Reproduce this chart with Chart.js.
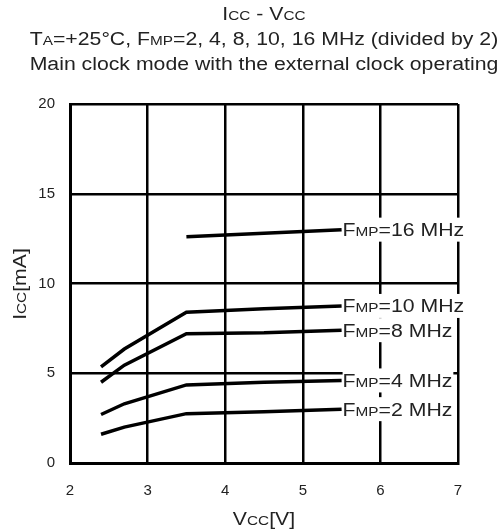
<!DOCTYPE html>
<html>
<head>
<meta charset="utf-8">
<script src="https://cdn.jsdelivr.net/npm/chart.js@4/dist/chart.umd.min.js"></script>
<style>
  html, body { margin: 0; padding: 0; background: #fff; }
  #wrap { width: 500px; height: 529px; }
</style>
</head>
<body>
<div id="wrap"><canvas id="chart" width="500" height="529"></canvas></div>
<script>
// data
const vcc = [2.4, 2.7, 3.5, 4.5, 5.5];
const vcc16 = [3.5, 4.5, 5.5];
const icc2 = [1.6, 2.0, 2.75, 2.85, 3.0];
const icc4 = [2.7, 3.3, 4.35, 4.5, 4.6];
const icc8 = [4.5, 5.45, 7.2, 7.25, 7.4];
const icc10 = [5.35, 6.35, 8.4, 8.6, 8.75];
const icc16 = [12.6, 12.8, 13.0];
const freqs = ['2', '4', '8', '10', '16'];
const xTicks = [2, 3, 4, 5, 6, 7];
const yTicks = [0, 5, 10, 15, 20];

const FONT = "'Liberation Sans', Arial, sans-serif";
const TEXT = '#222';
const STRETCH = 1.18; // the source text is drawn wide

function series(xs, ys) {
    return xs.map((x, i) => ({ x: x, y: ys[i] }));
}

const curves = [
    { f: freqs[0], data: series(vcc, icc2) },
    { f: freqs[1], data: series(vcc, icc4) },
    { f: freqs[2], data: series(vcc, icc8) },
    { f: freqs[3], data: series(vcc, icc10) },
    { f: freqs[4], data: series(vcc16, icc16) }
];

// text made of parts in different sizes (small caps style subscripts)
function partsWidth(ctx, parts) {
    let w = 0;
    parts.forEach(p => {
        ctx.font = p[1] + 'px ' + FONT;
        w += ctx.measureText(p[0]).width;
    });
    return w * STRETCH;
}

function drawParts(ctx, parts, x, y, align) {
    const w = partsWidth(ctx, parts);
    const left = align === 'center' ? x - w / 2 : x;
    ctx.save();
    ctx.translate(left, y);
    ctx.scale(STRETCH, 1);
    ctx.textBaseline = 'alphabetic';
    ctx.textAlign = 'left';
    let cx = 0;
    parts.forEach(p => {
        ctx.font = p[1] + 'px ' + FONT;
        ctx.fillText(p[0], cx, 0);
        cx += ctx.measureText(p[0]).width;
    });
    ctx.restore();
    return w;
}

const textPlugin = {
    id: 'texts',
    afterDraw(chart) {
        const ctx = chart.ctx;
        const xs = chart.scales.x;
        const ys = chart.scales.y;
        ctx.save();
        ctx.fillStyle = TEXT;

        // titles
        const cx = 264;
        drawParts(ctx, [['I', 18], ['CC', 13], [' - V', 18], ['CC', 13]], cx, 20, 'center');
        drawParts(ctx, [['T', 18], ['A', 13], ['=+25°C, F', 18], ['MP', 13], ['=2, 4, 8, 10, 16 MHz (divided by 2)', 18]], cx, 45, 'center');
        drawParts(ctx, [['Main clock mode with the external clock operating', 18]], cx, 70, 'center');

        // axis titles
        drawParts(ctx, [['V', 18], ['CC', 13], ['[V]', 18]], cx, 525, 'center');
        ctx.save();
        ctx.translate(26, 284);
        ctx.rotate(-Math.PI / 2);
        drawParts(ctx, [['I', 18], ['CC', 13], ['[mA]', 18]], 0, 0, 'center');
        ctx.restore();

        // curve labels at the end of each line
        curves.forEach(c => {
            const last = c.data[c.data.length - 1];
            const px = xs.getPixelForValue(last.x) + 1;
            const py = ys.getPixelForValue(last.y);
            const parts = [['F', 18], ['MP', 13], ['=' + c.f + ' MHz', 18]];
            const w = partsWidth(ctx, parts);
            ctx.fillStyle = '#fff';
            ctx.fillRect(px, py - 12, w + 1, 24);
            ctx.fillStyle = TEXT;
            drawParts(ctx, parts, px, py + 6.5, 'left');
        });
        ctx.restore();
    }
};

new Chart(document.getElementById('chart'), {
    type: 'scatter',
    data: {
        datasets: curves.map(c => ({
            label: 'FMP=' + c.f + ' MHz',
            data: c.data,
            showLine: true,
            borderColor: '#000',
            borderWidth: 3.5,
            pointRadius: 0,
            tension: 0
        }))
    },
    options: {
        responsive: false,
        animation: false,
        layout: { padding: { top: 104, right: 42, left: 0, bottom: 0 } },
        plugins: {
            legend: { display: false },
            tooltip: { enabled: false }
        },
        scales: {
            x: {
                type: 'linear',
                min: xTicks[0],
                max: xTicks[xTicks.length - 1],
                afterBuildTicks: s => { s.ticks = xTicks.map(v => ({ value: v })); },
                afterFit: s => { s.height = 66; },
                grid: { color: '#000', lineWidth: 2.5, drawTicks: false },
                border: { color: '#000', width: 3 },
                ticks: { color: TEXT, font: { size: 15, family: FONT }, padding: 19 }
            },
            y: {
                type: 'linear',
                min: yTicks[0],
                max: yTicks[yTicks.length - 1],
                afterBuildTicks: s => { s.ticks = yTicks.map(v => ({ value: v })); },
                afterFit: s => { s.width = 70; },
                grid: { color: '#000', lineWidth: 2.5, drawTicks: false },
                border: { color: '#000', width: 3 },
                ticks: { color: TEXT, font: { size: 15, family: FONT }, padding: 15 }
            }
        }
    },
    plugins: [textPlugin]
});
</script>
</body>
</html>
